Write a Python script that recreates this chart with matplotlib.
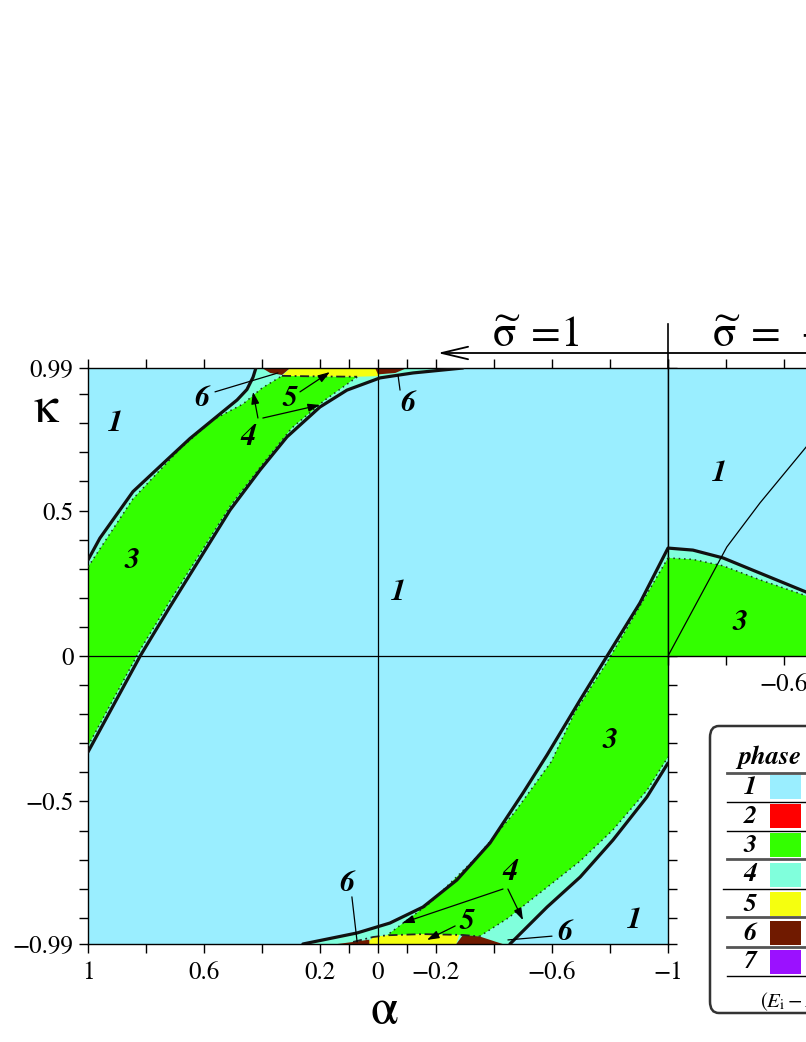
import numpy as np
import matplotlib
matplotlib.use('Agg')
import matplotlib.pyplot as plt
from matplotlib.patches import FancyBboxPatch, Rectangle, FancyArrowPatch
from matplotlib.lines import Line2D

plt.rcParams['font.family'] = ['STIXGeneral', 'DejaVu Serif']
plt.rcParams['mathtext.fontset'] = 'stix'

# ---------------- data ----------------
phase_labels = ['1', '2', '3', '4', '5', '6', '7']
phase_colors = ['#9aeeff', '#ff0000', '#33ff00', '#80ffdc', '#f5ff0f', '#701a00', '#9b11ff']
C1, C2, C3, C4, C5, C6, C7 = phase_colors

# band A (upper-left), sigma = 1
A_up_a = [1.0, 0.959, 0.845, 0.728, 0.648, 0.545, 0.486, 0.452, 0.431, 0.421]
A_up_k = [0.33, 0.405, 0.565, 0.674, 0.748, 0.832, 0.88, 0.916, 0.958, 0.99]
A_lo_a = [1.0, 0.82, 0.72, 0.614, 0.51, 0.407, 0.314, 0.2, 0.107, -0.007, -0.121, -0.293]
A_lo_k = [-0.33, 0.0, 0.165, 0.335, 0.502, 0.639, 0.753, 0.856, 0.914, 0.956, 0.973, 0.99]
A_dot_up_a = [1.0, 0.845, 0.683, 0.569, 0.466, 0.4, 0.331]
A_dot_up_k = [0.306, 0.54, 0.712, 0.812, 0.866, 0.921, 0.963]
A_dash_a = [0.331, 0.2, 0.072]
A_dash_k = [0.963, 0.961, 0.96]
A_dot_lo_a = [0.072, 0.183, 0.297, 0.4, 0.51, 0.614, 0.72, 0.821, 1.0]
A_dot_lo_k = [0.959, 0.88, 0.784, 0.657, 0.515, 0.352, 0.185, 0.02, -0.309]
A5_a = [0.331, 0.2, 0.072, 0.003, -0.041, 0.303]
A5_k = [0.963, 0.961, 0.96, 0.962, 0.99, 0.99]
A6L_a = [0.40, 0.303, 0.331, 0.372]
A6L_k = [0.99, 0.99, 0.966, 0.973]
A6R_a = [0.01, 0.0, -0.06, -0.10]
A6R_k = [0.99, 0.968, 0.973, 0.99]

# band B (lower-right), sigma = 1
B_up_a = [-1.0, -0.903, -0.79, -0.697, -0.583, -0.5, -0.386, -0.272, -0.155, -0.041, 0.072, 0.19, 0.259]
B_up_k = [0.371, 0.182, 0.0, -0.151, -0.34, -0.471, -0.643, -0.77, -0.863, -0.918, -0.952, -0.976, -0.99]
B_lo_a = [-1.0, -0.927, -0.81, -0.697, -0.583, -0.455]
B_lo_k = [-0.368, -0.485, -0.633, -0.76, -0.863, -0.99]
B_dot_up_a = [-1.0, -0.79, -0.679, -0.597, -0.472, -0.341, -0.179, -0.031]
B_dot_up_k = [0.337, -0.021, -0.193, -0.364, -0.536, -0.691, -0.849, -0.96]
B_dash_a = [0.086, 0.017, -0.031, -0.155, -0.293, -0.35]
B_dash_k = [-0.983, -0.966, -0.96, -0.956, -0.959, -0.964]
B_dot_lo_a = [-0.35, -0.45, -0.5, -0.583, -0.697, -0.81, -0.928, -1.0]
B_dot_lo_k = [-0.964, -0.9, -0.86, -0.795, -0.705, -0.598, -0.461, -0.347]
B5_a = [0.04, 0.017, -0.031, -0.155, -0.28, -0.27]
B5_k = [-0.99, -0.966, -0.96, -0.956, -0.959, -0.99]
B6L_a = [0.14, 0.086, 0.03, 0.03]
B6L_k = [-0.99, -0.983, -0.975, -0.99]
B6R_a = [-0.27, -0.293, -0.35, -0.43]
B6R_k = [-0.99, -0.959, -0.964, -0.99]

# right panel (sigma = -1)
R_up_a = [-1.0, -0.914, -0.81, -0.683, -0.524, -0.45]
R_up_k = [0.371, 0.364, 0.337, 0.285, 0.22, 0.19]
R_dot_a = [-1.0, -0.914, -0.81, -0.683, -0.524, -0.45]
R_dot_k = [0.337, 0.332, 0.31, 0.262, 0.207, 0.177]
R_line_a = [-1.0, -0.797, -0.683, -0.524, -0.49]
R_line_k = [0.0, 0.375, 0.526, 0.718, 0.755]

# ticks
xL_ticks = [1, 0.8, 0.6, 0.4, 0.2, 0.1, 0, -0.1, -0.2, -0.4, -0.6, -0.8, -1]
xL_labels = ['1', '', '0.6', '', '0.2', '', '0', '', '\u22120.2', '', '\u22120.6', '', '\u22121']
yL_ticks = [0.99, 0.5, 0, -0.5, -0.99]
yL_labels = ['0.99', '0.5', '0', '\u22120.5', '\u22120.99']
yL_minor = [0.9, 0.8, 0.7, 0.6, 0.4, 0.3, 0.2, 0.1, -0.1, -0.2, -0.3, -0.4, -0.6, -0.7, -0.8, -0.9]
xR_ticks = [-1, -0.8, -0.6, -0.4]
xR_labels = ['', '', '\u22120.6', '']

# phase labels in panels
L_txt = ['1', '3', '4', '5', '6', '6', '1', '3', '4', '5', '6', '6', '1']
L_a = [0.907, 0.848, 0.448, 0.303, 0.607, -0.103, -0.069, -0.8, -0.455, -0.307, 0.107, -0.645, -0.886]
L_k = [0.80, 0.33, 0.75, 0.887, 0.887, 0.87, 0.22, -0.289, -0.743, -0.914, -0.78, -0.949, -0.908]
R_txt = ['1', '3']
R_a = [-0.821, -0.752]
R_k = [0.629, 0.117]

# pointer lines: start (a,k) -> end (a,k), arrow head?
P_a0 = [0.562, 0.269, 0.414, 0.397, -0.076, 0.09, -0.431, -0.448, -0.266, -0.6]
P_k0 = [0.908, 0.908, 0.818, 0.818, 0.914, -0.828, -0.801, -0.801, -0.928, -0.963]
P_a1 = [0.345, 0.166, 0.431, 0.2, -0.069, 0.072, -0.083, -0.5, -0.169, -0.448]
P_k1 = [0.973, 0.976, 0.908, 0.863, 0.966, -0.983, -0.918, -0.908, -0.976, -0.976]
P_head = [False, True, True, True, False, False, True, True, True, False]

# ---------------- figure ----------------
W, H = 806, 1042
fig = plt.figure(figsize=(W / 100, H / 100), dpi=100)


def fx(px):
    return px / W


def fy(py):
    return 1 - py / H


axL = fig.add_axes([fx(88), fy(944), 580 / W, 576 / H])
axR = fig.add_axes([fx(668), fy(656), 580 / W, 288 / H])

for ax in (axL, axR):
    ax.set_facecolor(C1)
    for s in ax.spines.values():
        s.set_linewidth(1.0)
        s.set_color('black')

# ---- left panel ----
axL.set_xlim(1, -1)
axL.set_ylim(-0.99, 0.99)

axL.fill(A_up_a + A_lo_a[::-1], A_up_k + A_lo_k[::-1], color=C4, lw=0, zorder=1)
axL.fill(A_dot_up_a + A_dash_a[1:] + A_dot_lo_a[1:],
         A_dot_up_k + A_dash_k[1:] + A_dot_lo_k[1:], color=C3, lw=0, zorder=2)
axL.fill(A5_a, A5_k, color=C5, lw=0, zorder=2)
axL.fill(A6L_a, A6L_k, color=C6, lw=0, zorder=2)
axL.fill(A6R_a, A6R_k, color=C6, lw=0, zorder=2)

axL.fill(B_up_a + B_lo_a[::-1], B_up_k + B_lo_k[::-1], color=C4, lw=0, zorder=1)
axL.fill(B_dot_up_a + B_dash_a[3:] + B_dot_lo_a[1:],
         B_dot_up_k + B_dash_k[3:] + B_dot_lo_k[1:], color=C3, lw=0, zorder=2)
axL.fill(B5_a, B5_k, color=C5, lw=0, zorder=2)
axL.fill(B6L_a, B6L_k, color=C6, lw=0, zorder=2)
axL.fill(B6R_a, B6R_k, color=C6, lw=0, zorder=2)

dot_kw = dict(color='#1a3a1a', lw=1.1, ls=(0, (1, 2.5)), zorder=3)
axL.plot(A_dot_up_a, A_dot_up_k, **dot_kw)
axL.plot(A_dot_lo_a, A_dot_lo_k, **dot_kw)
axL.plot(B_dot_up_a, B_dot_up_k, **dot_kw)
axL.plot(B_dot_lo_a, B_dot_lo_k, **dot_kw)
dash_kw = dict(color='#222222', lw=1.3, ls=(0, (5, 2, 1, 2)), zorder=3)
axL.plot(A_dash_a, A_dash_k, **dash_kw)
axL.plot(B_dash_a, B_dash_k, **dash_kw)

thick_kw = dict(color='#111111', lw=2.3, zorder=4, solid_capstyle='round', solid_joinstyle='round')
axL.plot(A_up_a, A_up_k, **thick_kw)
axL.plot(A_lo_a, A_lo_k, **thick_kw)
axL.plot(B_up_a, B_up_k, **thick_kw)
axL.plot(B_lo_a, B_lo_k, **thick_kw)

axL.axvline(0, color='black', lw=0.9, zorder=3)
axL.axhline(0, color='black', lw=0.9, zorder=3)

axL.set_xticks(xL_ticks)
axL.set_xticklabels(xL_labels)
axL.set_yticks(yL_ticks)
axL.set_yticklabels(yL_labels)
axL.set_yticks(yL_minor, minor=True)
axL.tick_params(axis='x', which='both', direction='out', top=True, bottom=True,
                length=6.5, width=1, labelsize=18, pad=6)
axL.tick_params(axis='y', which='both', direction='out', left=True, right=True,
                length=6.5, width=1, labelsize=18, pad=4)

axL.set_ylabel('\u03ba', fontsize=36, rotation=0, va='center', ha='center')
axL.yaxis.set_label_coords(-0.072, 0.927)
axL.set_xlabel('\u03b1', fontsize=36, va='center', ha='center')
axL.xaxis.set_label_coords(0.51, -0.118)

lab_kw = dict(fontsize=22, fontweight='bold', fontstyle='italic', ha='center', va='center',
              family='STIXGeneral', zorder=6)
for t, a, k in zip(L_txt, L_a, L_k):
    axL.text(a, k, t, **lab_kw)

for a0, k0, a1, k1, hd in zip(P_a0, P_k0, P_a1, P_k1, P_head):
    axL.annotate('', xy=(a1, k1), xytext=(a0, k0), zorder=6,
                 arrowprops=dict(arrowstyle='-|>,head_length=0.6,head_width=0.2' if hd else '-',
                                 lw=0.9, color='black', shrinkA=0, shrinkB=0, mutation_scale=12))

# ---- right panel ----
axR.set_xlim(-1, 1)
axR.set_ylim(0, 0.99)
axR.fill(R_up_a + R_dot_a[::-1], R_up_k + R_dot_k[::-1], color=C4, lw=0, zorder=1)
axR.fill(R_dot_a + [R_dot_a[-1], R_dot_a[0]], R_dot_k + [0, 0], color=C3, lw=0, zorder=2)
axR.plot(R_dot_a, R_dot_k, **dot_kw)
axR.plot(R_up_a, R_up_k, **thick_kw)
axR.plot(R_line_a, R_line_k, color='black', lw=0.9, zorder=5)
axR.set_xticks(xR_ticks)
axR.set_xticklabels(xR_labels)
axR.set_yticks([])
axR.tick_params(axis='x', which='both', direction='out', top=True, bottom=True,
                length=6.5, width=1, labelsize=18, pad=6)
for t, a, k in zip(R_txt, R_a, R_k):
    axR.text(a, k, t, **lab_kw)

# ---- header: sigma labels, separator and arrow ----
fig.add_artist(Line2D([fx(668), fx(668)], [fy(324), fy(368)], color='black', lw=1.2,
                      transform=fig.transFigure))
fig.add_artist(FancyArrowPatch((fx(900), fy(353)), (fx(435), fy(353)),
                               transform=fig.transFigure,
                               arrowstyle='->,head_length=1.9,head_width=0.45',
                               mutation_scale=10, lw=1.3, color='black'))
fig.text(fx(536), fy(347), r'$\widetilde{\mathrm{\sigma}}\;=\!1$', fontsize=31, ha='center', va='baseline')
fig.text(fx(712), fy(347), r'$\widetilde{\mathrm{\sigma}}\;=\;-1$', fontsize=31, ha='left', va='baseline')

# ---- legend table ----
box = FancyBboxPatch((fx(710), fy(1013)), fx(1100) - fx(710), fy(726) - fy(1013),
                     boxstyle='round,pad=0,rounding_size=0.011', transform=fig.transFigure,
                     facecolor='white', edgecolor='#333333', lw=1.8, zorder=10)
fig.add_artist(box)
fig.text(fx(770), fy(757), 'phase', fontsize=19, fontweight='bold', fontstyle='italic',
         ha='center', va='center', zorder=11)
sep_y = [773, 802, 831, 859, 889, 917, 947, 976]
sep_x0 = [727, 727, 727, 727, 723, 727, 727, 727]
sep_style = [('#555555', 2.0), ('black', 1.0), ('black', 1.0), ('#555555', 2.0),
             ('black', 1.0), ('#555555', 2.0), ('#555555', 2.0), ('black', 1.0)]
for yv, x0, (c, w) in zip(sep_y, sep_x0, sep_style):
    fig.add_artist(Line2D([fx(x0), fx(1100)], [fy(yv), fy(yv)], color=c, lw=w,
                          transform=fig.transFigure, zorder=11))
row_y = [787, 816, 845, 874.5, 904, 933, 961.5]
for lab, col, yc in zip(phase_labels, phase_colors, row_y):
    fig.text(fx(750), fy(yc), lab, fontsize=19, fontweight='bold', fontstyle='italic',
             ha='center', va='center', zorder=11)
    fig.add_artist(Rectangle((fx(770), fy(yc + 12)), fx(801) - fx(770), fy(yc - 12) - fy(yc + 12),
                             transform=fig.transFigure, facecolor=col, edgecolor='none', zorder=11))
fig.text(fx(760), fy(1002), r'$(E_{\mathrm{i}}-E_{1})$', fontsize=15, ha='left', va='center', zorder=11)

fig.savefig('out.png', dpi=100)
